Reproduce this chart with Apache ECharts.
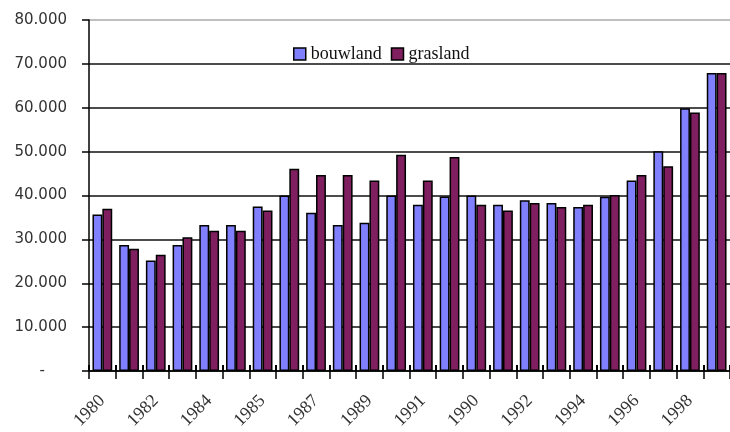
<!DOCTYPE html>
<html>
<head>
<meta charset="utf-8">
<script src="https://cdn.jsdelivr.net/npm/echarts@6/dist/echarts.min.js"></script>
<style>
  html, body { margin: 0; padding: 0; background: #fff; }
  #chart { width: 730px; height: 432px; }
</style>
</head>
<body>
<div id="chart"></div>
<script>
// labels as printed on the axis (only every other category is labelled)
var years = [
  "1980", "1981", "1982", "1983", "1984", "1984/85", "1985", "1986",
  "1987", "1988", "1989", "1990/91", "1991", "1991/90", "1990", "1990/92",
  "1992", "1993", "1994", "1995", "1996", "1997", "1998", "1999"
];
var bouwland = [
  35700, 28700, 25200, 28700, 33300, 33300, 37500, 40000,
  36100, 33300, 33800, 40000, 37900, 39800, 40000, 37900,
  38900, 38300, 37400, 39700, 43400, 50100, 59900, 67900
];
var grasland = [
  37000, 27900, 26500, 30500, 32000, 32000, 36600, 46100,
  44700, 44700, 43400, 49300, 43400, 48800, 37900, 36600,
  38300, 37400, 37900, 40100, 44700, 46700, 58900, 67900
];
var yTicks = [0, 10000, 20000, 30000, 40000, 50000, 60000, 70000, 80000];

var chart = echarts.init(document.getElementById("chart"));

function fmtY(v) {
  if (v === 0) return "{dash|-}";
  return (v / 1000) + ".000";
}

chart.setOption({
  animation: false,
  legend: {
    left: 288,
    top: 40,
    itemWidth: 12,
    itemHeight: 12,
    itemGap: 9,
    icon: "rect",
    itemStyle: { borderColor: "#000", borderWidth: 1.5 },
    textStyle: { fontFamily: "Liberation Serif", fontSize: 18, color: "#111" },
    data: ["bouwland", "grasland"]
  },
  grid: { left: 89, right: -5, top: 20, bottom: 60 },
  xAxis: [
    {
      type: "category",
      data: years,
      axisLine: { lineStyle: { color: "#000", width: 1.5 } },
      axisTick: { show: true, interval: 0, length: 8, lineStyle: { color: "#000", width: 1.5 } },
      axisLabel: {
        interval: 1,
        rotate: 45,
        margin: 27,
        fontFamily: "Liberation Serif",
        fontSize: 18,
        color: "#333"
      }
    },
    {
      type: "category",
      data: years,
      position: "bottom",
      axisLine: { show: false },
      axisTick: { show: true, inside: true, interval: 0, length: 6, lineStyle: { color: "#000", width: 2 } },
      axisLabel: { show: false }
    }
  ],
  yAxis: {
    type: "value",
    min: yTicks[0],
    max: yTicks[yTicks.length - 1],
    interval: 10000,
    axisLine: { show: true, lineStyle: { color: "#000", width: 1.5 } },
    axisTick: { show: true, length: 7, lineStyle: { color: "#000", width: 1.5 } },
    axisLabel: {
      margin: 22,
      fontFamily: "DejaVu Sans",
      fontSize: 15,
      color: "#333",
      formatter: fmtY,
      rich: { dash: { fontFamily: "DejaVu Sans", fontSize: 15, color: "#333", padding: [0, 22, 0, 0] } }
    },
    splitLine: {
      show: true,
      lineStyle: {
        color: ["#111", "#111", "#111", "#111", "#111", "#111", "#111", "#111", "#aaa"],
        width: 1.5
      }
    }
  },
  series: [
    {
      name: "bouwland",
      type: "bar",
      data: bouwland,
      barGap: "0%",
      barCategoryGap: "26%",
      itemStyle: { color: "#8080ff", borderColor: "#000", borderWidth: 1.5 }
    },
    {
      name: "grasland",
      type: "bar",
      data: grasland,
      itemStyle: { color: "#7f1f5f", borderColor: "#000", borderWidth: 1.5 }
    }
  ]
});
</script>
</body>
</html>
